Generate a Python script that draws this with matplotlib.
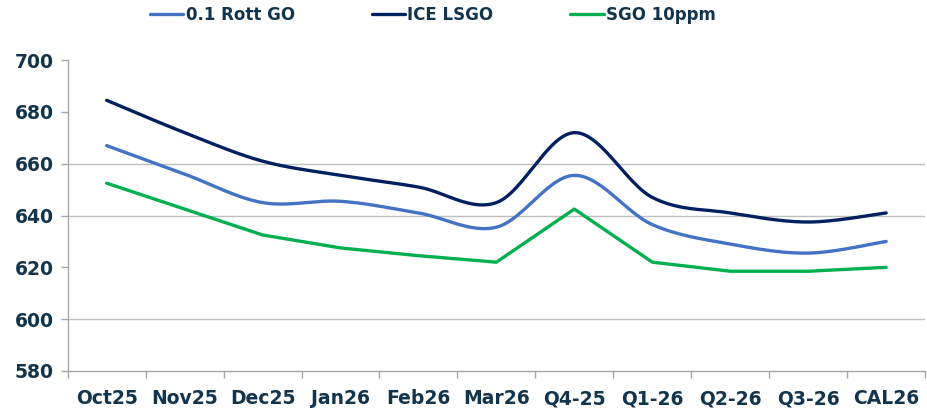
import numpy as np
import matplotlib
matplotlib.use("Agg")
import matplotlib.pyplot as plt

# chart data
categories = ["Oct25", "Nov25", "Dec25", "Jan26", "Feb26", "Mar26",
              "Q4-25", "Q1-26", "Q2-26", "Q3-26", "CAL26"]
rott_go = [667, 656, 645, 645.5, 641, 635.5, 655.5, 636.5, 629, 625.5, 630]
ice_lsgo = [684.5, 672, 661, 655.5, 651, 645, 672, 647, 641, 637.5, 641]
sgo_10ppm = [652.5, 642.5, 632.5, 627.5, 624.5, 622, 642.5, 622, 618.5, 618.5, 620]

y_ticks = [580, 600, 620, 640, 660, 680, 700]
grid_levels = [600, 640, 660]

text_color = "#12344D"
axis_color = "#A6A6A6"


def smooth(xs, ys, n=30):
    """Catmull-Rom style smoothing like Excel's smoothed line."""
    p = np.column_stack([xs, ys]).astype(float)
    p = np.vstack([p[0], p, p[-1]])
    out = []
    for i in range(1, len(p) - 2):
        p0, p1, p2, p3 = p[i - 1], p[i], p[i + 1], p[i + 2]
        c1 = p1 + (p2 - p0) / 6.0
        c2 = p2 - (p3 - p1) / 6.0
        t = np.linspace(0, 1, n)[:, None]
        seg = ((1 - t) ** 3) * p1 + 3 * ((1 - t) ** 2) * t * c1 \
            + 3 * (1 - t) * t ** 2 * c2 + t ** 3 * p2
        out.append(seg if i == 1 else seg[1:])
    out = np.vstack(out)
    return out[:, 0], out[:, 1]


fig = plt.figure(figsize=(9.27, 4.09), dpi=100)
ax = fig.add_axes([0.073, 0.093, 0.925, 0.76])

x = np.arange(len(categories))

for lvl in grid_levels:
    ax.axhline(lvl, color="#BFBFBF", lw=1.0, zorder=1)

sx, sy = smooth(x, rott_go)
ax.plot(sx, sy, color="#4472C4", lw=2.4, label="0.1 Rott GO", zorder=3,
        solid_capstyle="round")
sx, sy = smooth(x, ice_lsgo)
ax.plot(sx, sy, color="#002060", lw=2.4, label="ICE LSGO", zorder=3,
        solid_capstyle="round")
ax.plot(x, sgo_10ppm, color="#00B050", lw=2.4, label="SGO 10ppm", zorder=3,
        solid_capstyle="round")

ax.set_xlim(-0.5, len(categories) - 0.5)
ax.set_ylim(580, 700)
ax.set_yticks(y_ticks)
ax.set_yticklabels([str(v) for v in y_ticks])

# category labels centred, tick marks on the boundaries
ax.set_xticks(np.arange(len(categories) + 1) - 0.5)
ax.set_xticklabels([])
ax.set_xticks(x, minor=True)
ax.set_xticklabels(categories, minor=True)
ax.tick_params(axis="x", which="minor", length=0, pad=13)
ax.tick_params(axis="x", which="major", length=5, color=axis_color, width=1)
ax.tick_params(axis="y", length=5, color=axis_color, width=1, pad=5)

for lab in ax.get_xticklabels(minor=True) + ax.get_yticklabels():
    lab.set_fontweight("bold")
    lab.set_fontsize(13.5)
    lab.set_color(text_color)

for side in ["top", "right"]:
    ax.spines[side].set_visible(False)
for side in ["left", "bottom"]:
    ax.spines[side].set_color(axis_color)
    ax.spines[side].set_linewidth(1)

leg = fig.legend(loc="upper center", bbox_to_anchor=(0.467, 1.022), ncol=3,
                 frameon=False, handlelength=2.0, handletextpad=0.15,
                 columnspacing=4.6,
                 prop={"weight": "bold", "size": 12})
for t in leg.get_texts():
    t.set_color(text_color)

fig.savefig("out.png", dpi=100)
